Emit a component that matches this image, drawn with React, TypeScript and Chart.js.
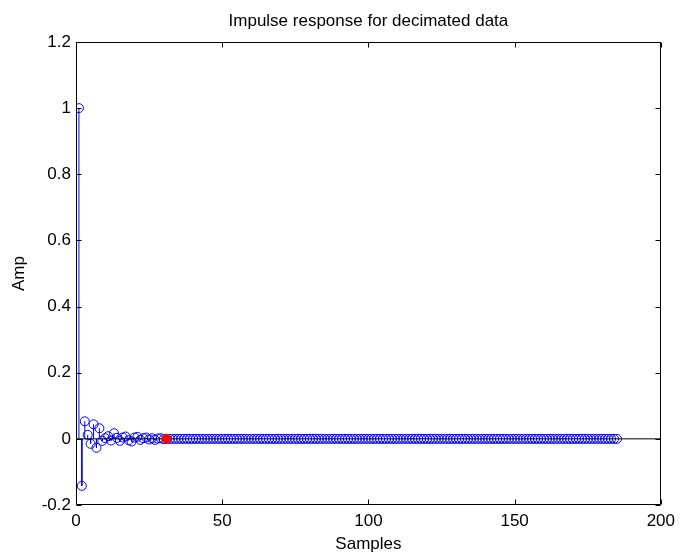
import React, { useEffect, useRef } from "react";
import { Chart, registerables } from "chart.js";

Chart.register(...registerables);

const TITLE = "Impulse response for decimated data";
const X_LABEL = "Samples";
const Y_LABEL = "Amp";
const X_TICKS = [0, 50, 100, 150, 200];
const Y_TICKS = [-0.2, 0, 0.2, 0.4, 0.6, 0.8, 1, 1.2];
const X_MIN = 0;
const X_MAX = 200;
const Y_MIN = -0.2;
const Y_MAX = 1.2;
const FIRST_SAMPLE = 1;

// impulse response amplitudes, sample 1 .. 185
const AMP = [
  1.0, -0.142, 0.053, 0.012, -0.015, 0.044, -0.027, 0.032, -0.006, 0.002,
  0.008, -0.005, 0.017, 0.003, -0.006, 0.004, 0.007, -0.004, -0.008, 0.004,
  0.006, -0.003, 0.002, 0.004, -0.002, 0.002, -0.003, 0.001, 0.002, -0.001,
  0, 0, 0, 0, 0, 0, 0, 0, 0, 0,
  0, 0, 0, 0, 0, 0, 0, 0, 0, 0,
  0, 0, 0, 0, 0, 0, 0, 0, 0, 0,
  0, 0, 0, 0, 0, 0, 0, 0, 0, 0,
  0, 0, 0, 0, 0, 0, 0, 0, 0, 0,
  0, 0, 0, 0, 0, 0, 0, 0, 0, 0,
  0, 0, 0, 0, 0, 0, 0, 0, 0, 0,
  0, 0, 0, 0, 0, 0, 0, 0, 0, 0,
  0, 0, 0, 0, 0, 0, 0, 0, 0, 0,
  0, 0, 0, 0, 0, 0, 0, 0, 0, 0,
  0, 0, 0, 0, 0, 0, 0, 0, 0, 0,
  0, 0, 0, 0, 0, 0, 0, 0, 0, 0,
  0, 0, 0, 0, 0, 0, 0, 0, 0, 0,
  0, 0, 0, 0, 0, 0, 0, 0, 0, 0,
  0, 0, 0, 0, 0, 0, 0, 0, 0, 0,
  0, 0, 0, 0, 0,
];

// highlighted sample (red marker)
const MARK_SAMPLE = [31];
const MARK_AMP = [0];

const FONT = "'Liberation Sans', Arial, sans-serif";
const FONT_SIZE = 17;

const fmt = (v: number) => String(Number(v.toFixed(2)));

const framePlugin = {
  id: "frame",
  afterDraw(chart: any) {
    const { ctx, chartArea } = chart;
    const { left, right, top, bottom } = chartArea;
    const xs = chart.scales.x;
    const ys = chart.scales.y;
    const L = Math.round(left) + 0.5;
    const R = Math.round(right) - 0.5;
    const T = Math.round(top) + 0.5;
    const B = Math.round(bottom) - 0.5;
    const len = 5;
    ctx.save();
    ctx.strokeStyle = "#000";
    ctx.lineWidth = 1;
    ctx.beginPath();
    ctx.rect(L, T, R - L, B - T);
    xs.ticks.forEach((t: any) => {
      const px = Math.round(xs.getPixelForValue(t.value)) + 0.5;
      ctx.moveTo(px, B);
      ctx.lineTo(px, B - len);
      ctx.moveTo(px, T);
      ctx.lineTo(px, T + len);
    });
    ys.ticks.forEach((t: any) => {
      const py = Math.round(ys.getPixelForValue(t.value)) + 0.5;
      ctx.moveTo(L, py);
      ctx.lineTo(L + len, py);
      ctx.moveTo(R, py);
      ctx.lineTo(R - len, py);
    });
    ctx.stroke();
    // title centred over the plot area
    ctx.fillStyle = "#000";
    ctx.font = `${FONT_SIZE}px ${FONT}`;
    ctx.textAlign = "center";
    ctx.textBaseline = "middle";
    ctx.fillText(TITLE, (left + right) / 2, 21);
    ctx.restore();
  },
};

export default function App() {
  const ref = useRef<HTMLCanvasElement | null>(null);

  useEffect(() => {
    if (!ref.current) return;
    const samples = AMP.map((_, i) => FIRST_SAMPLE + i);
    const stems: any[] = [];
    samples.forEach((s, i) => {
      stems.push({ x: s, y: 0 });
      stems.push({ x: s, y: AMP[i] });
      stems.push({ x: s, y: null });
    });
    const points = samples.map((s, i) => ({ x: s, y: AMP[i] }));
    const marks = MARK_SAMPLE.map((s, i) => ({ x: s, y: MARK_AMP[i] }));
    const baseline = [
      { x: X_MIN, y: 0 },
      { x: X_MAX, y: 0 },
    ];

    const chart = new Chart(ref.current, {
      type: "scatter",
      data: {
        datasets: [
          {
            type: "scatter",
            data: marks,
            pointStyle: "circle",
            pointRadius: 4.5,
            pointBackgroundColor: "#ff0000",
            pointBorderColor: "#ff0000",
            pointBorderWidth: 1,
            order: 0,
          } as any,
          {
            type: "line",
            data: baseline,
            borderColor: "#000000",
            borderWidth: 1,
            pointRadius: 0,
            order: 1,
          } as any,
          {
            type: "scatter",
            data: points,
            pointStyle: "circle",
            pointRadius: 4.5,
            pointBackgroundColor: "rgba(0,0,0,0)",
            pointBorderColor: "#0000ff",
            pointBorderWidth: 1,
            order: 2,
          } as any,
          {
            type: "line",
            data: stems,
            borderColor: "#0000ff",
            borderWidth: 1,
            pointRadius: 0,
            spanGaps: false,
            order: 3,
          } as any,
        ],
      },
      options: {
        animation: false,
        responsive: false,
        events: [],
        layout: { padding: { left: 0, right: 15, top: 42, bottom: 0 } },
        plugins: {
          legend: { display: false },
          tooltip: { enabled: false },
          title: { display: false },
        },
        scales: {
          x: {
            type: "linear",
            min: X_MIN,
            max: X_MAX,
            grid: { display: false, drawTicks: false },
            border: { display: false },
            afterBuildTicks: (s: any) => {
              s.ticks = X_TICKS.map((v) => ({ value: v }));
            },
            afterFit: (s: any) => {
              s.height = 50;
            },
            ticks: {
              color: "#000",
              font: { family: FONT, size: FONT_SIZE },
              padding: 6,
              maxRotation: 0,
              callback: (v: any) => fmt(Number(v)),
            },
            title: {
              display: true,
              text: X_LABEL,
              color: "#000",
              font: { family: FONT, size: FONT_SIZE },
              padding: { top: 0, bottom: 0 },
            },
          },
          y: {
            type: "linear",
            min: Y_MIN,
            max: Y_MAX,
            grid: { display: false, drawTicks: false },
            border: { display: false },
            afterBuildTicks: (s: any) => {
              s.ticks = Y_TICKS.map((v) => ({ value: v }));
            },
            afterFit: (s: any) => {
              s.width = 76;
            },
            ticks: {
              color: "#000",
              font: { family: FONT, size: FONT_SIZE },
              padding: 5,
              callback: (v: any) => fmt(Number(v)),
            },
            title: {
              display: true,
              text: Y_LABEL,
              color: "#000",
              font: { family: FONT, size: FONT_SIZE },
              padding: { top: 9, bottom: 0 },
            },
          },
        },
      } as any,
      plugins: [framePlugin],
    });
    return () => chart.destroy();
  }, []);

  return (
    <div style={{ position: "absolute", left: 0, top: 0, width: 681, height: 555, background: "#fff" }}>
      <canvas ref={ref} width={681} height={555} style={{ display: "block" }} />
    </div>
  );
}
